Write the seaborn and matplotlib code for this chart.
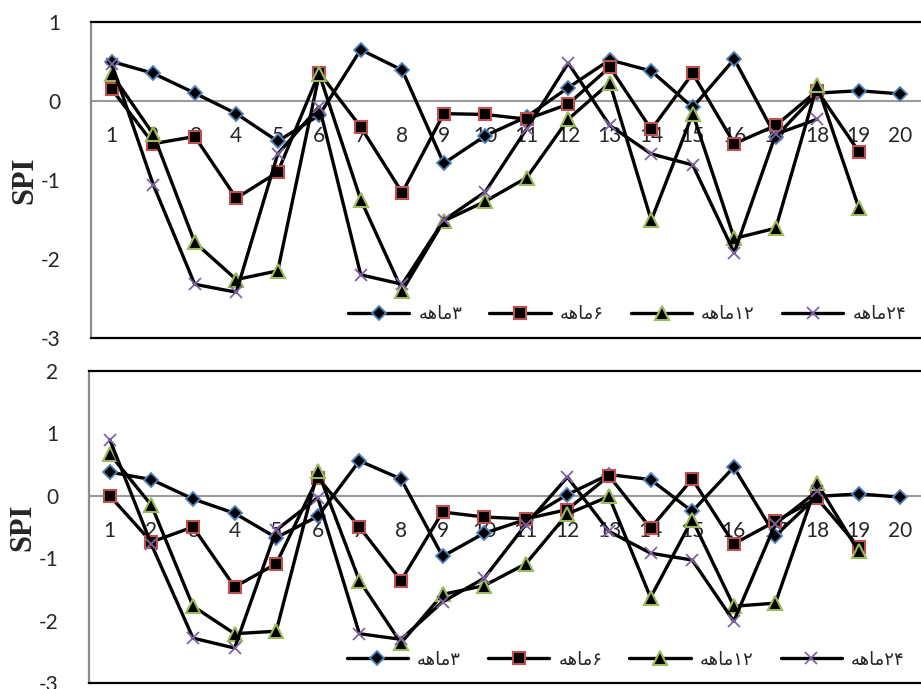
import matplotlib
matplotlib.use("Agg")
import matplotlib.pyplot as plt
import numpy as np
import pandas as pd
import seaborn as sns

sns.set_theme(style="white")
plt.rcParams["font.family"] = ["Lato", "DejaVu Sans"]

months = list(range(1, 21))

# Persian legend labels, written in visual order with presentation forms
# (matplotlib does no bidi/shaping): "ماهه" + digit
_maheh = "\uFEEA\uFEEB\uFE8E\uFEE3"
labels = [_maheh + "\u06F3", _maheh + "\u06F6",
          _maheh + "\u06F1\u06F2", _maheh + "\u06F2\u06F4"]

# top chart
top_3 = [0.50, 0.35, 0.10, -0.16, -0.51, -0.18, 0.65, 0.39, -0.79, -0.44,
         -0.20, 0.17, 0.52, 0.38, -0.08, 0.53, -0.45, 0.10, 0.13, 0.09]
top_6 = [0.15, -0.54, -0.45, -1.23, -0.90, 0.36, -0.33, -1.16, -0.16, -0.17,
         -0.23, -0.04, 0.43, -0.36, 0.35, -0.54, -0.31, 0.13, -0.64]
top_12 = [0.34, -0.42, -1.79, -2.26, -2.15, 0.34, -1.25, -2.40, -1.52, -1.27,
          -0.97, -0.23, 0.23, -1.51, -0.16, -1.74, -1.61, 0.20, -1.35]
top_24 = [0.47, -1.06, -2.32, -2.42, -0.67, -0.07, -2.20, -2.32, -1.51, -1.15,
          -0.35, 0.48, -0.31, -0.67, -0.81, -1.92, -0.42, -0.23]

# bottom chart
bot_3 = [0.38, 0.26, -0.05, -0.28, -0.67, -0.33, 0.56, 0.27, -0.97, -0.60,
         -0.38, 0.02, 0.34, 0.26, -0.25, 0.46, -0.64, -0.01, 0.03, -0.02]
bot_6 = [0.00, -0.74, -0.50, -1.46, -1.09, 0.29, -0.50, -1.36, -0.26, -0.34,
         -0.37, -0.22, 0.32, -0.52, 0.27, -0.77, -0.41, -0.04, -0.82]
bot_12 = [0.67, -0.15, -1.77, -2.21, -2.17, 0.40, -1.36, -2.36, -1.58, -1.44,
          -1.09, -0.29, -0.01, -1.63, -0.38, -1.77, -1.72, 0.20, -0.89]
bot_24 = [0.90, -0.78, -2.28, -2.44, -0.55, -0.03, -2.21, -2.30, -1.70, -1.32,
          -0.46, 0.30, -0.57, -0.92, -1.03, -2.01, -0.45, 0.07]

styles = [
    dict(marker="D", markersize=7.5, markeredgecolor="#4F81BD", markeredgewidth=1.3),
    dict(marker="s", markersize=9, markeredgecolor="#C0504D", markeredgewidth=1.5),
    dict(marker="^", markersize=10, markeredgecolor="#9BBB59", markeredgewidth=1.5),
    dict(marker="x", markersize=9, markeredgecolor="#8064A2", markeredgewidth=1.3),
]


def draw_panel(ax, series, ylim, yticks):
    ax.axhline(0, color="#9a9a9a", linewidth=1.5, zorder=1)
    for vals, lab, st in zip(series, labels, styles):
        df = pd.DataFrame({"month": months[:len(vals)], "spi": vals})
        sns.lineplot(data=df, x="month", y="spi", ax=ax, color="black",
                     linewidth=2.4, markerfacecolor="black", label=lab,
                     zorder=3, **st)
    ax.set_xlim(0.5, 20.5)
    ax.set_ylim(*ylim)
    ax.set_yticks(yticks)
    ax.set_yticklabels([str(t) for t in yticks], fontsize=15)
    ax.tick_params(axis="y", length=0, pad=22)
    ax.set_xticks([])
    for m in months:
        ax.annotate(str(m), (m, 0), xytext=(0, -25), textcoords="offset points",
                    ha="center", va="center", fontsize=15, zorder=2)
    ax.set_xlabel("")
    ax.set_ylabel("SPI", family="Liberation Serif", fontweight="bold",
                  fontsize=22, labelpad=1)
    for side in ["top", "bottom"]:
        ax.spines[side].set_color("black")
        ax.spines[side].set_linewidth(1.6)
    ax.spines["right"].set_visible(False)
    ax.spines["left"].set_color("#8c8c8c")
    ax.spines["left"].set_linewidth(1.6)
    leg = ax.legend(ncol=4, loc="center left", bbox_to_anchor=(0.29, 0.075),
                    frameon=False, handlelength=3.4, columnspacing=1.5,
                    handletextpad=0.5, prop={"family": ["DejaVu Sans"], "size": 13})
    return leg


fig = plt.figure(figsize=(9.21, 6.89), dpi=100)
ax1 = fig.add_axes([91 / 921, (689 - 338) / 689, (921 - 91) / 921, (338 - 22) / 689])
ax2 = fig.add_axes([89 / 921, (689 - 683) / 689, (921 - 89) / 921, (683 - 371) / 689])

draw_panel(ax1, [top_3, top_6, top_12, top_24], (-3, 1), [-3, -2, -1, 0, 1])
draw_panel(ax2, [bot_3, bot_6, bot_12, bot_24], (-3, 2), [-3, -2, -1, 0, 1, 2])

fig.savefig("out.png", dpi=100)
